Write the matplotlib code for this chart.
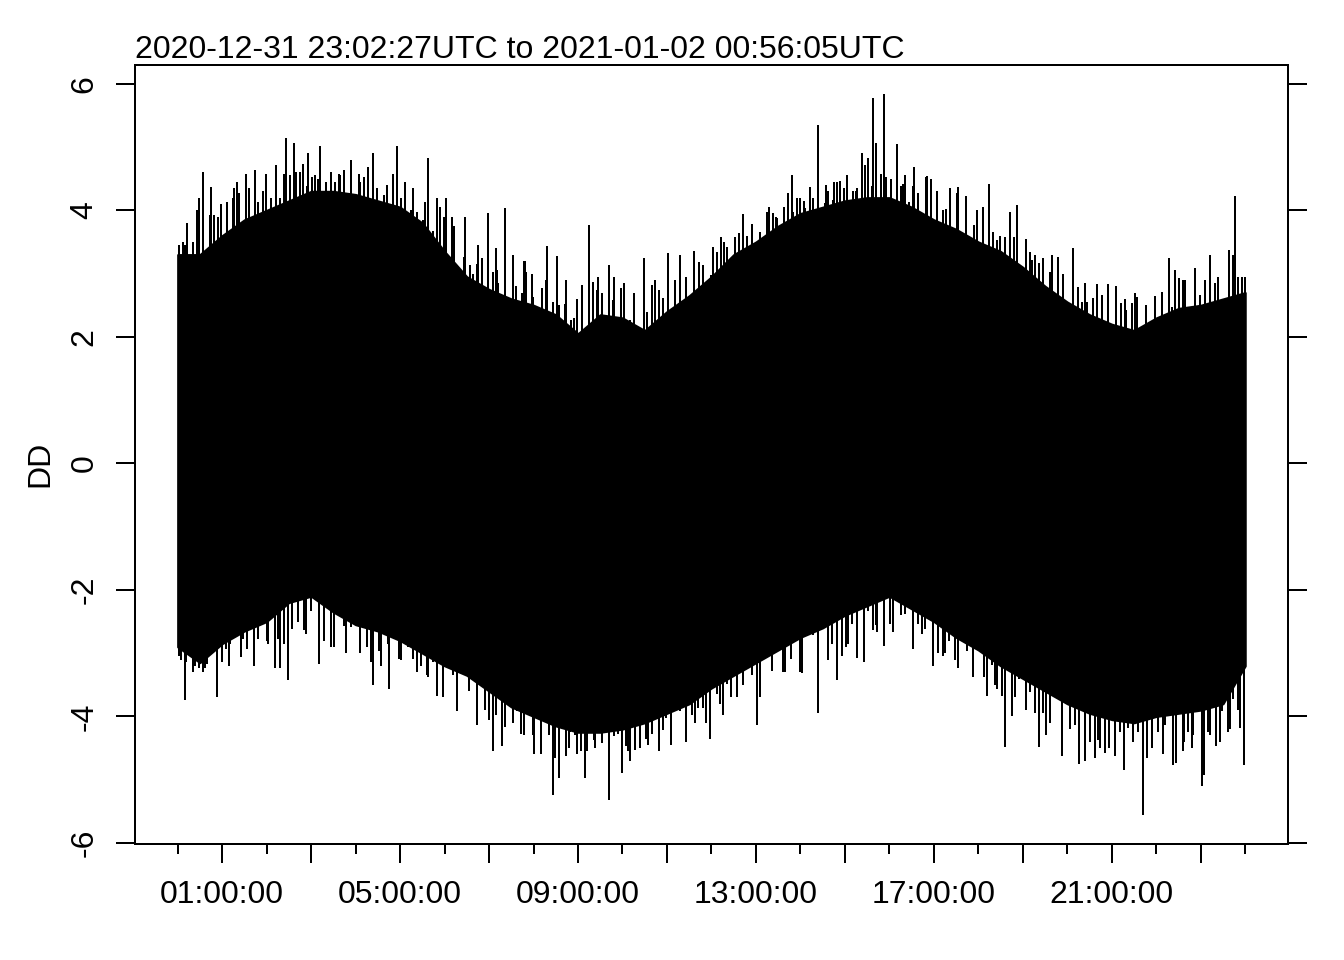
import matplotlib
matplotlib.use("Agg")
import matplotlib.pyplot as plt

plt.rcParams["font.family"] = ["Liberation Sans", "DejaVu Sans"]
plt.rcParams["font.size"] = 12

TITLE = "2020-12-31 23:02:27UTC to 2021-01-02 00:56:05UTC"

# solid core of the signal, read every half hour (hours since 00:00)
env_t = [i * 0.5 for i in range(49)]
env_top = [3.3, 3.3, 3.6, 3.85, 4.0, 4.15, 4.3, 4.3, 4.25, 4.15, 4.05, 3.8, 3.35,
           2.95, 2.75, 2.6, 2.5, 2.35, 2.05, 2.35, 2.3, 2.1, 2.4, 2.65, 2.95, 3.3,
           3.5, 3.75, 3.95, 4.05, 4.15, 4.2, 4.2, 4.05, 3.85, 3.7, 3.5, 3.35, 3.1,
           2.8, 2.55, 2.35, 2.2, 2.1, 2.3, 2.45, 2.5, 2.6, 2.7]
env_bot = [-2.9, -3.15, -2.85, -2.65, -2.5, -2.2, -2.1, -2.35, -2.55, -2.65, -2.8,
           -3.0, -3.2, -3.35, -3.6, -3.85, -4.0, -4.15, -4.25, -4.25, -4.2, -4.1,
           -3.95, -3.8, -3.55, -3.35, -3.15, -2.95, -2.75, -2.6, -2.4, -2.25, -2.1,
           -2.3, -2.5, -2.75, -2.95, -3.2, -3.4, -3.6, -3.8, -3.95, -4.05, -4.1,
           -4.0, -3.95, -3.9, -3.8, -3.2]

# tallest upward spikes (hour, value)
up_t = [0.16, 0.2, 0.56, 0.76, 0.97, 1.24, 1.53, 1.73, 1.91, 2.22, 2.43, 2.61, 2.76,
        2.94, 3.08, 3.21, 3.44, 3.66, 3.89, 4.11, 4.4, 4.7, 4.94, 5.12, 5.3, 5.62,
        5.84, 6.04, 6.22, 6.45, 6.76, 6.97, 7.15, 7.37, 7.53, 7.8, 7.96, 8.31, 8.52,
        8.72, 8.97, 9.24, 9.46, 9.69, 9.82, 10.04, 10.25, 10.49, 10.74, 11.03, 11.3,
        11.6, 11.82, 12.04, 12.29, 12.72, 12.92, 13.24, 13.44, 13.73, 13.82, 14.07,
        14.22, 14.4, 14.58, 14.76, 15.04, 15.24, 15.39, 15.64, 15.71, 15.87, 16.04,
        16.18, 16.36, 16.56, 16.85, 17.06, 17.37, 17.55, 17.73, 17.98, 18.25, 18.49,
        18.72, 18.88, 19.06, 19.28, 19.46, 19.66, 19.91, 20.13, 20.4, 20.67, 20.92,
        21.1, 21.3, 21.53, 21.78, 21.98, 22.29, 22.43, 22.65, 22.88, 23.21, 23.39,
        23.64, 23.78, 23.93]
up_v = [3.45, 3.8, 4.6, 4.37, 4.1, 4.2, 4.58, 4.63, 4.3, 4.71, 5.15, 5.07, 4.6,
        4.9, 4.55, 5.02, 4.6, 4.55, 4.79, 4.45, 4.9, 4.4, 5.02, 4.45, 4.35, 4.82,
        4.2, 4.2, 3.75, 3.9, 3.45, 3.95, 3.4, 4.03, 3.3, 3.2, 3.0, 3.43, 3.28,
        2.9, 2.6, 3.76, 2.95, 3.13, 2.95, 2.85, 2.7, 3.24, 2.85, 3.32, 3.3,
        3.35, 3.05, 3.42, 3.5, 3.94, 3.65, 3.98, 3.9, 4.28, 4.55, 4.15,
        4.37, 5.34, 4.4, 4.45, 4.55, 4.3, 4.9, 5.78, 5.07, 5.84, 4.5,
        5.04, 4.55, 4.68, 4.54, 4.3, 4.35, 4.37, 4.23, 4.0, 4.42, 3.6,
        3.97, 4.08, 3.55, 3.3, 3.25, 3.29, 3.0, 3.4, 2.85, 2.84, 2.84,
        2.8, 2.6, 2.7, 2.5, 2.65, 3.24, 3.05, 2.9, 3.08, 3.29, 2.95,
        3.37, 4.22, 2.95]

# smaller hairs along the upper edge
hair_up_t = [0.02, 0.11, 0.34, 0.43, 0.49, 0.72, 0.81, 0.9, 1.1, 1.26, 1.33, 1.39,
             1.6, 1.8, 1.98, 2.09, 2.29, 2.4, 2.53, 2.67, 2.81, 2.9, 3.03, 3.15, 3.33,
             3.53, 3.62, 3.73, 4.07, 4.18, 4.27, 4.49, 4.63, 4.85, 5.01, 5.24, 5.37,
             5.51, 5.57, 5.73, 5.82, 5.89, 5.98, 6.16, 6.43, 6.58, 6.65, 6.74, 6.85,
             7.08, 7.17, 7.21, 7.6, 7.73, 7.78, 7.84, 7.98, 8.18, 8.27, 8.43, 8.58,
             8.7, 8.85, 8.92, 9.1, 9.33, 9.42, 9.53, 9.78, 9.96, 10.18, 10.27, 10.56,
             10.67, 10.72, 10.81, 10.92, 11.19, 11.42, 11.71, 11.8, 11.98, 12.13,
             12.22, 12.36, 12.52, 12.61, 12.81, 12.92, 13.01, 13.1, 13.3, 13.39,
             13.48, 13.62, 13.84, 13.93, 14.0, 14.11, 14.29, 14.49, 14.56, 14.63,
             14.74, 14.83, 14.88, 14.97, 15.12, 15.19, 15.28, 15.46, 15.51, 15.6,
             15.82, 15.93, 16.25, 16.31, 16.45, 16.52, 16.65, 16.83, 16.94, 17.21,
             17.28, 17.51, 17.91, 18.11, 18.34, 18.43, 18.61, 18.81, 19.15, 19.21,
             19.37, 19.51, 19.6, 19.78, 20.25, 20.34, 20.45, 20.58, 20.79, 21.21,
             21.33, 21.46, 21.57, 21.96, 22.13, 22.36, 22.52, 22.61, 22.72, 22.99,
             23.1, 23.33, 23.44, 23.73, 23.84, 24.0]
hair_up_v = [3.45, 3.5, 3.5, 4.0, 4.19, 3.92, 3.92, 3.89, 4.13, 4.35, 4.44, 4.28,
             4.35, 4.13, 4.58, 4.19, 4.19, 4.58, 4.55, 4.6, 4.73, 4.39, 4.52, 4.5,
             4.44, 4.44, 4.58, 4.63, 4.58, 4.52, 4.68, 4.35, 4.24, 4.58, 4.19, 4.0,
             3.97, 3.84, 4.13, 3.68, 4.03, 4.05, 3.89, 3.89, 3.26, 3.13, 3.0, 3.15,
             3.24, 3.02, 3.06, 2.85, 2.8, 2.69, 3.2, 3.02, 2.63, 2.77, 2.9, 2.55,
             2.5, 2.52, 2.27, 2.3, 2.82, 2.87, 2.74, 2.7, 2.58, 2.77, 2.27, 2.63,
             2.39, 2.82, 2.9, 2.74, 2.61, 2.9, 2.95, 3.18, 3.13, 2.98, 3.34, 3.57,
             3.42, 3.57, 3.64, 3.6, 3.79, 3.5, 3.65, 4.05, 3.95, 3.87, 4.05, 3.97,
             4.2, 4.2, 4.03, 4.2, 3.95, 4.11, 4.31, 4.16, 4.44, 4.47, 4.35, 4.16,
             4.31, 4.35, 4.71, 4.82, 4.39, 4.58, 4.52, 4.39, 4.41, 4.13, 4.39, 4.27,
             4.52, 4.49, 4.0, 4.02, 4.27, 3.76, 4.05, 3.66, 3.53, 3.57, 3.57, 3.34,
             3.21, 3.17, 2.69, 3.02, 3.26, 2.79, 2.55, 2.55, 2.61, 2.66, 2.53, 2.43,
             2.53, 2.63, 2.61, 2.71, 2.47, 2.93, 2.9, 2.47, 2.66, 2.9, 2.85, 2.47,
             3.29, 2.95, 2.95]

# deepest downward spikes (hour, value)
dn_t = [0.07, 0.16, 0.34, 0.58, 0.88, 1.15, 1.42, 1.71, 2.0, 2.18, 2.49, 2.88, 3.17,
        3.44, 3.78, 4.11, 4.4, 4.58, 4.76, 5.01, 5.39, 5.6, 5.84, 5.96, 6.29, 6.54,
        6.74, 6.92, 7.08, 7.3, 7.53, 7.78, 8.02, 8.16, 8.43, 8.58, 8.79, 8.97, 9.15,
        9.39, 9.69, 9.98, 10.18, 10.4, 10.58, 10.81, 11.08, 11.42, 11.64, 11.96,
        12.2, 12.43, 12.7, 13.03, 13.37, 13.66, 14.0, 14.4, 14.63, 14.83, 15.03,
        15.28, 15.44, 15.69, 15.89, 16.25, 16.54, 16.74, 16.97, 17.26, 17.48, 17.89,
        18.2, 18.38, 18.61, 18.83, 19.06, 19.37, 19.62, 19.89, 20.07, 20.27, 20.52,
        20.74, 21.08, 21.28, 21.48, 21.71, 21.91, 22.16, 22.38, 22.63, 22.81, 23.03,
        23.21, 23.44, 23.66, 23.84, 23.98]
dn_v = [-3.1, -3.74, -3.3, -3.3, -3.69, -3.2, -3.06, -3.2, -2.8, -3.23, -3.43, -2.7,
        -3.17, -2.9, -3.0, -3.0, -3.51, -3.2, -3.57, -3.1, -3.3, -3.35, -3.67, -3.69,
        -3.92, -3.6, -4.14, -3.9, -4.55, -4.47, -4.1, -4.3, -4.6, -4.6, -5.24, -4.98,
        -4.5, -4.6, -4.98, -4.5, -5.32, -4.9, -4.71, -4.5, -4.45, -4.55, -4.45, -4.4,
        -4.1, -4.35, -3.8, -3.7, -3.5, -4.13, -3.28, -3.3, -3.3, -3.95, -3.1, -3.43,
        -2.9, -3.07, -3.14, -2.55, -2.88, -2.4, -2.93, -2.7, -3.2, -3.0, -3.1, -3.37,
        -3.67, -3.5, -4.48, -3.7, -3.9, -4.48, -4.1, -4.62, -4.2, -4.75, -4.4, -4.5,
        -4.62, -4.85, -4.4, -5.56, -4.5, -4.6, -4.77, -4.4, -4.5, -5.1, -4.3, -4.4,
        -4.2, -3.9, -4.77]

# smaller hairs along the lower edge
hair_dn_t = [0.02, 0.18, 0.25, 0.4, 0.47, 0.54, 0.61, 0.67, 0.79, 0.99, 1.08, 1.17,
             1.33, 1.48, 1.57, 1.8, 1.91, 2.04, 2.25, 2.31, 2.4, 2.58, 2.7, 2.83, 2.99,
             3.28, 3.51, 3.73, 3.89, 4.09, 4.25, 4.34, 4.52, 4.72, 4.85, 4.97, 5.17,
             5.28, 5.46, 5.62, 5.73, 6.0, 6.11, 6.2, 6.36, 6.43, 6.63, 6.7, 6.85, 7.01,
             7.15, 7.21, 7.35, 7.44, 7.62, 7.71, 7.89, 7.98, 8.09, 8.22, 8.34, 8.49,
             8.72, 8.83, 8.94, 9.06, 9.21, 9.35, 9.46, 9.55, 9.62, 9.8, 9.89, 10.07,
             10.13, 10.29, 10.52, 10.67, 10.9, 10.97, 11.19, 11.3, 11.57, 11.69, 11.8,
             11.87, 12.13, 12.25, 12.36, 12.58, 12.81, 12.92, 13.1, 13.17, 13.6, 13.78,
             14.04, 14.29, 14.61, 14.72, 14.94, 15.06, 15.17, 15.53, 15.64, 15.73,
             16.02, 16.09, 16.36, 16.65, 16.81, 17.1, 17.21, 17.33, 17.55, 17.66,
             17.75, 18.0, 18.13, 18.31, 18.43, 18.54, 18.76, 18.92, 19.17, 19.28,
             19.46, 19.53, 19.73, 20.18, 20.4, 20.63, 20.7, 20.85, 20.94, 21.19, 21.37,
             21.6, 21.8, 22.04, 22.2, 22.45, 22.61, 22.72, 22.83, 23.08, 23.17, 23.35,
             23.48, 23.62, 23.73, 23.89]
hair_dn_v = [-3.04, -3.14, -2.98, -3.21, -3.24, -2.96, -3.24, -3.17, -2.93, -3.14,
             -2.93, -2.85, -2.72, -2.77, -2.93, -2.77, -2.49, -2.85, -2.77, -3.24,
             -2.85, -2.61, -2.5, -2.64, -2.33, -2.8, -2.9, -2.57, -2.58, -2.69, -2.9,
             -3.14, -2.96, -2.85, -2.74, -3.09, -2.9, -3.09, -3.21, -3.37, -3.14,
             -3.04, -3.24, -3.35, -3.19, -3.04, -3.29, -3.43, -3.43, -4.06, -3.98,
             -3.64, -4.16, -3.59, -3.91, -4.27, -3.84, -4.29, -3.82, -3.8, -4.29,
             -4.66, -4.63, -4.24, -4.29, -4.55, -4.55, -4.37, -4.08, -4.42, -4.14,
             -4.31, -4.27, -4.47, -4.55, -4.53, -4.35, -4.27, -4.22, -4.03, -3.84,
             -3.92, -3.98, -3.87, -3.87, -4.11, -3.64, -3.98, -3.48, -3.69, -3.14,
             -3.35, -3.69, -3.06, -3.3, -3.09, -3.32, -2.72, -2.82, -2.85, -3.04,
             -2.85, -2.54, -2.33, -2.64, -2.66, -2.54, -2.66, -2.38, -2.54, -2.61,
             -3.0, -3.04, -2.8, -3.24, -2.82, -2.96, -2.9, -3.37, -3.19, -3.56, -3.67,
             -4.0, -3.4, -3.61, -3.95, -3.95, -4.3, -3.67, -4.14, -4.71, -4.66, -4.37,
             -4.58, -4.5, -4.24, -4.19, -4.24, -4.66, -4.24, -4.14, -4.74, -4.55,
             -4.24, -4.3, -4.93, -4.24, -4.47, -3.92, -4.24, -3.72, -4.19]

major_t = [1, 3, 5, 7, 9, 11, 13, 15, 17, 19, 21, 23]
minor_t = [0, 2, 4, 6, 8, 10, 12, 14, 16, 18, 20, 22, 24]
label_t = [1, 5, 9, 13, 17, 21]
y_ticks = [-6, -4, -2, 0, 2, 4, 6]


def hms(h):
    return "%02d:00:00" % h


fig = plt.figure(figsize=(7, 5), dpi=192)
ax = fig.add_axes([0.1004, 0.1208, 0.8579, 0.8115])

ax.fill_between(env_t, env_bot, env_top, color="black", lw=0.75)
ax.vlines(hair_up_t, 0, hair_up_v, color="black", lw=0.75)
ax.vlines(hair_dn_t, hair_dn_v, 0, color="black", lw=0.75)
ax.vlines(up_t, 0, up_v, color="black", lw=0.75)
ax.vlines(dn_t, dn_v, 0, color="black", lw=0.75)
ax.margins(x=0.04, y=0.04)

for s in ax.spines.values():
    s.set_linewidth(0.75)

ax.set_xticks(major_t)
ax.set_xticklabels([hms(h) if h in label_t else "" for h in major_t])
ax.set_xticks(minor_t, minor=True)
ax.tick_params(axis="x", which="major", length=7.2, width=0.75, pad=6.3)
ax.tick_params(axis="x", which="minor", length=3.6, width=0.75)

ax.set_yticks(y_ticks)
ax.set_yticklabels([str(v) for v in y_ticks], rotation=90, va="center")
ax.tick_params(axis="y", which="both", left=True, right=True, length=7.2,
               width=0.75, pad=6.0)

fig.text(40 / 1344, 1 - 464 / 960, "DD", rotation=90, ha="center", va="center")
fig.text(135 / 1344, 1 - 58 / 960, TITLE, ha="left", va="baseline")

fig.savefig("out.png", dpi=192)
